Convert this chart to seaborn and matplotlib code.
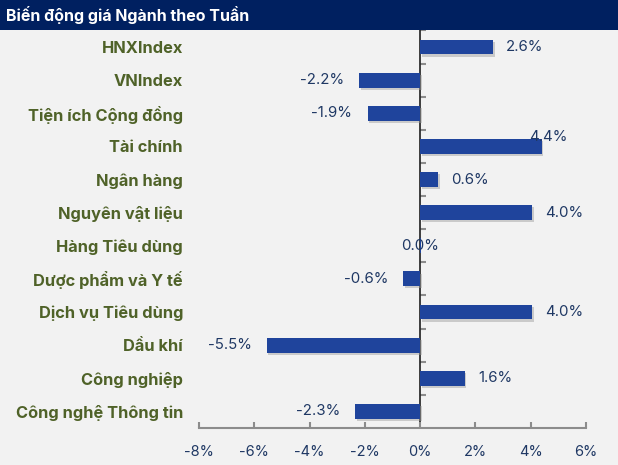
import numpy as np
import pandas as pd
import matplotlib
matplotlib.use("Agg")
import matplotlib.pyplot as plt
import matplotlib.patheffects as pe
from matplotlib.patches import Rectangle
from matplotlib.ticker import FuncFormatter, FixedLocator
import seaborn as sns

# Datos del gráfico
titulo = "Biến động giá Ngành theo Tuần"
nganh = ["HNXIndex", "VNIndex", "Tiện ích Cộng đồng", "Tài chính", "Ngân hàng",
         "Nguyên vật liệu", "Hàng Tiêu dùng", "Dược phẩm và Y tế",
         "Dịch vụ Tiêu dùng", "Dầu khí", "Công nghiệp", "Công nghệ Thông tin"]
bien_dong = [2.64, -2.2, -1.9, 4.4, 0.65, 4.05, 0.02, -0.6, 4.05, -5.55, 1.62, -2.35]
nhan = ["2.6%", "-2.2%", "-1.9%", "4.4%", "0.6%", "4.0%", "0.0%", "-0.6%",
        "4.0%", "-5.5%", "1.6%", "-2.3%"]
x_ticks = [-8, -6, -4, -2, 0, 2, 4, 6]

df = pd.DataFrame({"nganh": nganh, "bien_dong": bien_dong, "nhan": nhan})

# Colores
fondo = "#F2F2F2"
azul_titulo = "#002060"
azul_barra = "#1F449C"
azul_texto = "#1F3864"
verde = "#4F6228"
gris = "#8C8C8C"

sns.set_theme(style="white")
plt.rcParams["font.family"] = ["Inter", "DejaVu Sans"]

fig = plt.figure(figsize=(6.18, 4.65), dpi=100, facecolor=fondo)
ax = fig.add_axes([0.322, 0.0796, 0.626, 0.855])
ax.set_facecolor(fondo)

sns.barplot(data=df, x="bien_dong", y="nganh", orient="h", color=azul_barra,
            saturation=1, width=0.45, linewidth=0, ax=ax)
for p in ax.patches:
    p.set_path_effects([pe.SimplePatchShadow(offset=(1.2, -1.5), shadow_rgbFace="#9a9a9a",
                                             alpha=0.45), pe.Normal()])

ax.set_xlim(-8, 6)
ax.set_ylim(len(nganh) - 0.5, -0.5)
ax.xaxis.set_major_locator(FixedLocator(x_ticks))
ax.xaxis.set_major_formatter(FuncFormatter(lambda v, _: f"{v:.0f}%"))
ax.set_xlabel("")
ax.set_ylabel("")

for s in ["top", "right", "left"]:
    ax.spines[s].set_visible(False)
ax.spines["bottom"].set_color(gris)
ax.spines["bottom"].set_linewidth(1.5)
ax.tick_params(axis="x", direction="in", length=4, width=1.5, color=gris,
               labelsize=10.5, labelcolor=azul_texto, pad=12, bottom=True)
ax.tick_params(axis="y", length=0, pad=11.5, labelsize=11.8, labelcolor=verde)
for t in ax.get_yticklabels():
    t.set_fontweight("bold")

# Eje vertical en 0 con marcas entre categorías
pos0 = (0 - ax.get_xlim()[0]) / (ax.get_xlim()[1] - ax.get_xlim()[0])
sec = ax.secondary_yaxis(pos0)
sec.spines["left"].set_color(gris)
sec.spines["left"].set_linewidth(1.5)
sec.set_yticks(np.arange(-0.5, len(nganh) - 0.5, 1))
sec.set_yticklabels([])
sec.tick_params(axis="y", direction="out", length=4, width=1.5, color=gris)

# Etiquetas de valores
for i, (v, txt) in enumerate(zip(bien_dong, nhan)):
    if txt == "4.4%":
        ax.annotate(txt, (v, i), xytext=(-9, 7), textcoords="offset points",
                    ha="left", va="center", fontsize=10.8, color=azul_texto)
    elif abs(v) < 0.05:
        ax.annotate(txt, (0, i), xytext=(0, 0), textcoords="offset points",
                    ha="center", va="center", fontsize=10.8, color=azul_texto)
    elif v > 0:
        ax.annotate(txt, (v, i), xytext=(9.5, 0), textcoords="offset points",
                    ha="left", va="center", fontsize=10.8, color=azul_texto)
    else:
        ax.annotate(txt, (v, i), xytext=(-11, 0), textcoords="offset points",
                    ha="right", va="center", fontsize=10.8, color=azul_texto)

# Barra del título
fig.patches.append(Rectangle((0, 1 - 30 / 465), 1, 30 / 465, transform=fig.transFigure,
                             facecolor=azul_titulo, edgecolor="none", zorder=0))
fig.text(6 / 618, 1 - 15 / 465, titulo, color="white", fontsize=11.5,
         fontweight="bold", va="center", ha="left")

fig.savefig("out.png", dpi=100, facecolor=fondo)
